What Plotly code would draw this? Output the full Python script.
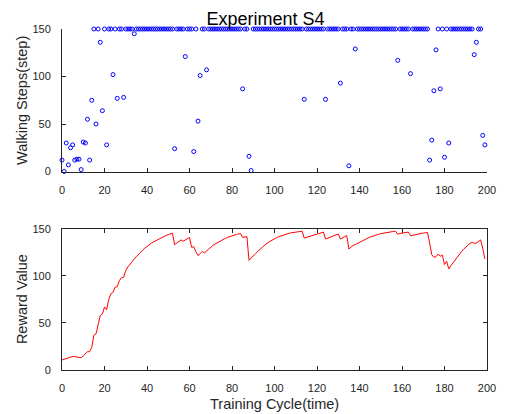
import plotly.graph_objects as go

# ---------------- data ----------------
cycles = list(range(200))

walking_steps = [
    12, 0, 30, 7, 25, 28, 12, 13, 13, 2, 31, 30, 55, 12, 75, 150, 50, 150, 136, 64,
    150, 28, 150, 150, 102, 150, 77, 150, 150, 78, 150, 150, 150, 150, 145, 150, 150, 150, 150, 150,
    150, 150, 150, 150, 150, 150, 150, 150, 150, 150, 150, 150, 150, 24, 150, 150, 150, 150, 121, 150,
    150, 150, 21, 150, 53, 101, 150, 150, 107, 150, 150, 150, 150, 150, 150, 150, 150, 150, 150, 150,
    150, 150, 150, 150, 150, 87, 150, 150, 16, 1, 150, 150, 150, 150, 150, 150, 150, 150, 150, 150,
    150, 150, 150, 150, 150, 150, 150, 150, 150, 150, 150, 150, 150, 150, 76, 150, 150, 150, 150, 150,
    150, 150, 150, 150, 76, 150, 150, 150, 150, 150, 150, 93, 150, 150, 150, 6, 150, 150, 129, 150,
    150, 150, 150, 150, 150, 150, 150, 150, 150, 150, 150, 150, 150, 150, 150, 150, 150, 150, 117, 150,
    150, 150, 150, 150, 103, 150, 150, 150, 150, 150, 150, 150, 150, 12, 33, 85, 128, 150, 87, 150,
    15, 150, 30, 150, 150, 150, 150, 150, 150, 150, 150, 150, 150, 150, 123, 136, 150, 150, 38, 28,
]

reward_value = [
    10.6, 11.5, 12.2, 12.5, 14.0, 14.4, 14.2, 14.0, 13.5, 13.0, 15.0, 17.5, 19.5, 19.4, 24.0, 37.0, 38.5, 48.0, 58.0, 59.5,
    67.0, 64.0, 75.0, 81.0, 82.5, 88.0, 88.5, 95.0, 98.0, 98.5, 105.6, 109.5, 112.7, 115.5, 118.0, 120.4, 123.0, 125.3, 127.5, 129.5,
    131.5, 133.1, 134.6, 136.0, 137.3, 138.5, 139.7, 140.8, 141.9, 142.9, 143.8, 144.6, 145.3, 133.1, 135.0, 136.8, 138.2, 136.8, 138.0, 139.3,
    140.8, 130.3, 131.0, 125.7, 121.5, 123.5, 126.0, 124.4, 126.5, 128.8, 130.8, 132.3, 133.8, 135.2, 136.5, 137.8, 139.0, 140.0, 141.0, 141.9,
    142.6, 143.3, 143.9, 144.5, 145.0, 140.8, 141.5, 141.8, 116.5, 118.5, 121.0, 123.5, 125.8, 128.0, 130.0, 132.0, 133.8, 135.4, 136.9, 138.3,
    139.6, 140.7, 141.7, 142.6, 143.4, 144.1, 144.7, 145.3, 145.8, 146.2, 146.6, 146.9, 147.2, 147.4, 140.1, 140.8, 141.6, 142.4, 143.2, 144.0,
    144.8, 145.5, 146.1, 146.5, 139.1, 139.9, 140.9, 141.9, 142.9, 143.8, 144.5, 139.1, 140.6, 142.0, 142.8, 128.5, 131.0, 132.5, 133.2, 134.5,
    135.8, 137.0, 138.0, 139.2, 140.2, 141.2, 142.1, 142.9, 143.6, 144.2, 144.8, 145.3, 145.8, 146.2, 146.6, 146.9, 147.2, 147.4, 144.3, 145.0,
    145.5, 145.9, 146.2, 146.5, 142.6, 143.2, 143.7, 144.2, 144.7, 145.1, 145.5, 145.8, 146.0, 135.0, 122.5, 119.7, 120.4, 123.2, 120.8, 122.0,
    112.0, 115.5, 107.4, 110.8, 114.0, 117.2, 120.2, 123.0, 125.8, 128.3, 130.6, 132.7, 134.5, 135.6, 134.6, 134.8, 136.5, 138.2, 129.0, 118.0,
]

x_ticks = [0, 20, 40, 60, 80, 100, 120, 140, 160, 180, 200]
y_ticks = [0, 50, 100, 150]

title_text = "Experiment S4"
top_ylabel = "Walking Steps(step)"
bottom_ylabel = "Reward Value"
bottom_xlabel = "Training Cycle(time)"

# ---------------- figure ----------------
FONT = "Liberation Sans, Arial, Helvetica, sans-serif"
AX = "#262626"

fig = go.Figure()
fig.add_trace(go.Scatter(
    x=cycles, y=walking_steps, mode="markers", xaxis="x", yaxis="y",
    marker=dict(symbol="circle-open", size=4, color="#0000FF", line=dict(width=1, color="#0000FF")),
    cliponaxis=False, showlegend=False,
))
fig.add_trace(go.Scatter(
    x=cycles, y=reward_value, mode="lines", xaxis="x2", yaxis="y2",
    line=dict(color="#FF0000", width=1), showlegend=False,
))

common = dict(
    showgrid=False, zeroline=False, showline=True, linecolor=AX, linewidth=1,
    ticks="inside", ticklen=4, tickwidth=1, tickcolor=AX,
    tickfont=dict(family=FONT, size=11, color=AX),
    ticklabelstandoff=8,
)

fig.update_layout(
    width=508, height=414,
    margin=dict(l=62, r=14, t=29, b=44),
    paper_bgcolor="white", plot_bgcolor="white",
    font=dict(family=FONT, color=AX),
    xaxis=dict(domain=[0, 1], range=[0, 200], tickvals=x_ticks, anchor="y", mirror=False, **common),
    yaxis=dict(domain=[0.5821, 1], range=[0, 150], tickvals=y_ticks, anchor="x", mirror=False, **common),
    xaxis2=dict(domain=[0, 1], range=[0, 200], tickvals=x_ticks, anchor="y2", mirror="ticks", **common),
    yaxis2=dict(domain=[0, 0.4141], range=[0, 150], tickvals=y_ticks, anchor="x2", mirror="ticks", **common),
    title=dict(text=title_text, font=dict(family=FONT, size=18, color="black"),
               xref="paper", x=0.479, xanchor="center", yref="container", y=0.970, yanchor="top"),
    annotations=[
        dict(text=top_ylabel, xref="paper", yref="paper", x=-0.0925, y=0.791, textangle=-90,
             xanchor="center", yanchor="middle", showarrow=False, font=dict(family=FONT, size=14.5, color=AX)),
        dict(text=bottom_ylabel, xref="paper", yref="paper", x=-0.0925, y=0.207, textangle=-90,
             xanchor="center", yanchor="middle", showarrow=False, font=dict(family=FONT, size=14.5, color=AX)),
        dict(text=bottom_xlabel, xref="paper", yref="paper", x=0.5, y=-0.0997,
             xanchor="center", yanchor="middle", showarrow=False, font=dict(family=FONT, size=14.5, color=AX)),
    ],
)

fig.write_html("out.html")
